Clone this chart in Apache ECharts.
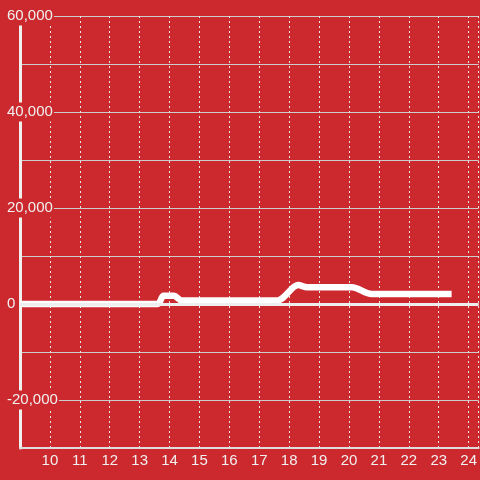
<!DOCTYPE html>
<html lang="en">
<head>
    <meta charset="UTF-8">
    <title>Line on red</title>
    <style>
        body { margin: 0; background: #cc292e; }
        #chart { width: 480px; height: 480px; }
    </style>
    <script src="https://cdn.jsdelivr.net/npm/echarts/dist/echarts.min.js"></script>
</head>
<body>
<div id="chart"></div>
<script>
    // Series data: [hour, value]
    var hours = [9, 13.6, 13.8, 14.15, 14.4, 17.6, 18.3, 18.6, 20.1, 20.75, 23.43];
    var values = [0, 0, 1700, 1700, 750, 750, 3950, 3500, 3500, 2100, 2100];

    var chart = echarts.init(document.getElementById('chart'));

    var option = {
        backgroundColor: '#cc292e',
        animation: false,
        grid: { left: 20, right: 0, top: 16, bottom: 32 },
        xAxis: {
            type: 'value',
            min: 9,
            max: 24.333,
            interval: 1,
            axisLine: { show: true, onZero: false, lineStyle: { color: '#dddddd', width: 2 } },
            axisTick: { show: false },
            axisLabel: {
                showMinLabel: false,
                showMaxLabel: false,
                color: '#f0f0f0',
                fontSize: 15,
                fontFamily: 'Liberation Sans',
                margin: 5
            },
            splitLine: { show: true, lineStyle: { color: '#e6e6e6', type: [2, 3], width: 1 } }
        },
        yAxis: {
            type: 'value',
            min: -30000,
            max: 60000,
            interval: 10000,
            axisLine: { show: true, lineStyle: { color: '#f0f0f0', width: 3 } },
            axisTick: { show: false },
            axisLabel: {
                color: '#f0f0f0',
                fontSize: 15,
                fontFamily: 'Liberation Sans',
                align: 'left',
                margin: 14,
                backgroundColor: '#cc292e',
                padding: [4, 1, 0, 1],
                formatter: function (v) {
                    if (v % 20000 !== 0) return '';
                    return v.toLocaleString('en-US');
                }
            },
            splitLine: { show: true, lineStyle: { color: '#cccccc', width: 1 } }
        },
        series: [{
            type: 'line',
            data: hours.map(function (h, i) { return [h, values[i]]; }),
            showSymbol: false,
            smooth: 0.3,
            lineStyle: { color: '#ffffff', width: 6.5, cap: 'butt' },
            markLine: {
                silent: true,
                symbol: 'none',
                label: { show: false },
                lineStyle: { color: '#eeeeee', width: 3, type: 'solid' },
                data: [{ yAxis: 0 }]
            },
            z: 3
        }]
    };
    chart.setOption(option);
</script>
</body>
</html>
